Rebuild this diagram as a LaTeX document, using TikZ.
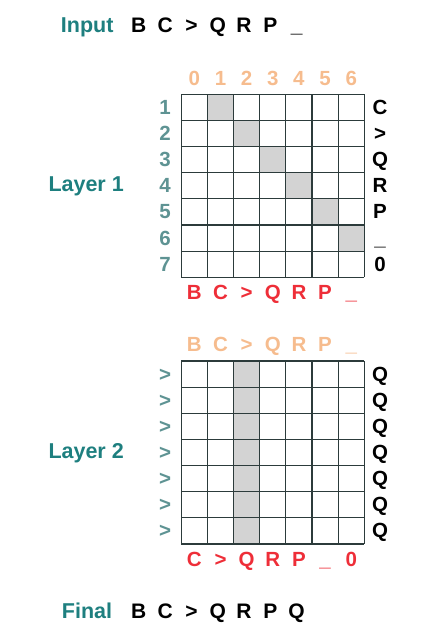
\documentclass[tikz,border=0pt]{standalone}
\usepackage{fontspec}
\setmainfont{Liberation Sans}
\definecolor{teal1}{HTML}{1E7F7F}
\definecolor{rowc}{HTML}{5E9393}
\definecolor{orng}{HTML}{F6BC8E}
\definecolor{redc}{HTML}{EE2E38}
\definecolor{gridc}{HTML}{2C3B3B}
\definecolor{cellg}{HTML}{D3D3D3}
\begin{document}
\begin{tikzpicture}[x=1pt,y=-1pt,
  title/.style={font=\fontsize{21.5}{24}\selectfont\bfseries, anchor=base west, inner sep=0pt, text=teal1},
  lab/.style={font=\fontsize{20.5}{22}\selectfont\bfseries, anchor=base, inner sep=0pt},
  seq/.style={lab, font=\fontsize{21}{23}\selectfont\bfseries, text=black},
  rowlab/.style={lab, text=rowc},
  collab/.style={lab, text=orng},
  outlab/.style={lab, text=redc},
  rlab/.style={lab, text=black},
  gline/.style={draw=gridc, line width=1.1pt},
  gcell/.style={fill=cellg}]
\useasboundingbox (0,0) rectangle (443,642);
\def\cw{26.14}
\def\gx{181.3}
\def\ga{94.3}
\def\gb{361}
% ---- Input
\node[title] (input) at (60.7,32.3) {Input};
\foreach \t [count=\k from 0] in {B,C,>,Q,R,P,\_}
  \node[seq] (in\k) at ({138.8+\k*26.3},32.3) {\t};
% ---- Layer 1
\foreach \k in {1,...,6}
  \fill[gcell] ({\gx+\k*\cw},{\ga+(\k-1)*\cw}) rectangle +(\cw,\cw);
\foreach \k in {0,...,7} {
  \draw[gline] ({\gx+\k*\cw},\ga) -- ({\gx+\k*\cw},{\ga+7*\cw});
  \draw[gline] (\gx,{\ga+\k*\cw}) -- ({\gx+7*\cw},{\ga+\k*\cw});
}
\foreach \t [count=\k from 0] in {0,1,2,3,4,5,6}
  \node[collab] (ca\k) at ({\gx+(\k+0.5)*\cw},85) {\t};
\foreach \t [count=\k from 0] in {1,2,3,4,5,6,7}
  \node[rowlab] (ra\k) at (165,{\ga+(\k+0.5)*\cw+7}) {\t};
\foreach \t [count=\k from 0] in {C,>,Q,R,P,\_,0}
  \node[rlab] (qa\k) at (380,{\ga+(\k+0.5)*\cw+7}) {\t};
\foreach \t [count=\k from 0] in {B,C,>,Q,R,P,\_}
  \node[outlab] (oa\k) at ({\gx+(\k+0.5)*\cw},299) {\t};
\node[title] (layer1) at (48.3,191.7) {Layer 1};
% ---- Layer 2
\fill[gcell] ({\gx+2*\cw},\gb) rectangle +(\cw,{7*\cw});
\foreach \k in {0,...,7} {
  \draw[gline] ({\gx+\k*\cw},\gb) -- ({\gx+\k*\cw},{\gb+7*\cw});
  \draw[gline] (\gx,{\gb+\k*\cw}) -- ({\gx+7*\cw},{\gb+\k*\cw});
}
\foreach \t [count=\k from 0] in {B,C,>,Q,R,P,\_}
  \node[collab] (cb\k) at ({\gx+(\k+0.5)*\cw},351.7) {\t};
\foreach \k in {0,...,6}
  \node[rowlab] (rb\k) at (165,{\gb+(\k+0.5)*\cw+7}) {>};
\foreach \k in {0,...,6}
  \node[rlab] (qb\k) at (380,{\gb+(\k+0.5)*\cw+7}) {Q};
\foreach \t [count=\k from 0] in {C,>,Q,R,P,\_,0}
  \node[outlab] (ob\k) at ({\gx+(\k+0.5)*\cw},566) {\t};
\node[title] (layer2) at (48.3,458.3) {Layer 2};
% ---- Final
\node[title] (final) at (61.7,618.3) {Final};
\foreach \t [count=\k from 0] in {B,C,>,Q,R,P,Q}
  \node[seq] (fi\k) at ({138.8+\k*26.3},618.3) {\t};
\end{tikzpicture}
\end{document}
